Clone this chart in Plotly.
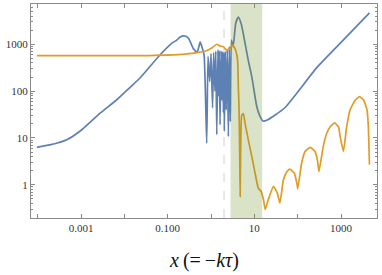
import numpy as np
import plotly.graph_objects as go

# ---- data (log10 values) ----
blue_log_x = [-4.02, -3.72, -3.33, -2.99, -2.56, -2.18, -1.87, -1.64, -1.18, -0.91, -0.79, -0.72,
              -0.65, -0.58, -0.52, -0.41, -0.32, -0.25, -0.20, -0.16, -0.10, -0.07, -0.03, 0.0,
              0.035, 0.06, 0.09, 0.11, 0.132, 0.16, 0.17, 0.19, 0.208, 0.23, 0.25, 0.265, 0.284,
              0.296, 0.307, 0.33, 0.35, 0.375, 0.40, 0.42, 0.445, 0.47, 0.51, 0.57, 0.63, 0.70,
              0.785, 0.86, 0.94, 1.055, 1.12, 1.20, 1.31, 1.48, 1.71, 2.0, 2.44, 3.0, 3.656]
blue_log_y = [0.80, 0.85, 0.96, 1.17, 1.53, 1.81, 2.08, 2.28, 2.77, 3.02, 3.09, 3.15,
              3.18, 3.17, 3.13, 2.91, 2.83, 3.05, 2.91, 2.77, 0.89, 2.74, 2.2, 2.80,
              1.64, 2.82, 2.0, 2.85, 1.07, 2.88, 1.9, 2.86, 1.28, 2.86, 1.8, 2.84, 1.54,
              2.82, 1.14, 2.85, 1.6, 2.88, 1.03, 2.95, 1.35, 3.09, 2.95, 3.45, 3.58, 3.42,
              3.02, 2.65, 2.31, 1.67, 1.48, 1.36, 1.39, 1.49, 1.65, 1.98, 2.50, 3.04, 3.67]

orange_log_x = [-4.02, -1.64, -0.60, -0.14, 0.016, 0.13, 0.21, 0.28, 0.36, 0.44, 0.49, 0.55,
                0.60, 0.617, 0.63, 0.647, 0.662, 0.672, 0.682, 0.709, 0.746, 0.785, 0.86, 0.94,
                1.016, 1.09, 1.155, 1.21, 1.25, 1.32, 1.44, 1.53, 1.59, 1.67, 1.75, 1.82, 1.92,
                1.98, 2.00, 2.09, 2.17, 2.29, 2.40, 2.46, 2.49, 2.59, 2.67, 2.75, 2.85, 2.94,
                2.98, 3.055, 3.13, 3.21, 3.33, 3.425, 3.52, 3.60, 3.63, 3.656]
orange_log_y = [2.757, 2.757, 2.79, 2.85, 2.92, 3.00, 2.96, 2.95, 2.88, 2.91, 2.985, 2.91,
                2.75, 2.59, 2.10, 1.60, 0.6, -0.25, 0.6, 1.49, 1.52, 1.31, 0.96, 0.605,
                0.25, -0.07, -0.14, -0.32, -0.53, -0.32, -0.036, -0.18, -0.39, 0.107, 0.28, 0.335, 0.25,
                0.036, -0.09, 0.46, 0.71, 0.80, 0.71, 0.50, 0.28, 0.82, 1.10, 1.24, 1.32, 1.24,
                1.03, 0.71, 1.24, 1.60, 1.81, 1.88, 1.81, 1.60, 1.24, 0.43]

band_x = [10 ** 0.45, 10 ** 1.18]
dashed_x = 10 ** 0.30

x_tick_vals = [1e-4, 1e-3, 1e-2, 1e-1, 1, 10, 100, 1000]
x_tick_text = ["", "0.001", "", "0.100", "", "10", "", "1000"]
y_tick_vals = [1, 10, 100, 1000]
y_tick_text = ["1", "10", "100", "1000"]

blue_x = 10 ** np.array(blue_log_x)
blue_y = 10 ** np.array(blue_log_y)
orange_x = 10 ** np.array(orange_log_x)
orange_y = 10 ** np.array(orange_log_y)

minor_y = [m * 10.0 ** k for k in range(-1, 4) for m in range(2, 10)]

fig = go.Figure()
fig.add_trace(go.Scatter(x=blue_x, y=blue_y, mode="lines",
                         line=dict(color="#5E81B5", width=1.7, shape="spline", smoothing=0.5),
                         showlegend=False))
fig.add_trace(go.Scatter(x=orange_x, y=orange_y, mode="lines",
                         line=dict(color="#E19C24", width=1.7, shape="spline", smoothing=0.4),
                         showlegend=False))

fig.add_shape(type="line", x0=dashed_x, x1=dashed_x, y0=0, y1=1, xref="x", yref="paper",
              line=dict(color="#d9d9d9", width=1.2, dash="dash"), layer="below")
fig.add_shape(type="rect", x0=band_x[0], x1=band_x[1], y0=0, y1=1, xref="x", yref="paper",
              fillcolor="rgba(107,142,35,0.25)", line=dict(width=0), layer="above")

tickfont = dict(family="Liberation Serif, Times New Roman, serif", size=11, color="#333")
fig.update_xaxes(type="log", range=[-4.155, 3.83], showgrid=False, zeroline=False,
                 showline=True, linecolor="#8a8a8a", linewidth=1, mirror="ticks",
                 ticks="inside", ticklen=4, tickcolor="#8a8a8a", automargin=False,
                 tickvals=x_tick_vals, ticktext=x_tick_text, tickfont=tickfont)
fig.update_yaxes(type="log", range=[-0.71, 3.86], showgrid=False, zeroline=False,
                 showline=True, linecolor="#8a8a8a", linewidth=1, mirror="ticks",
                 ticks="inside", ticklen=4, tickcolor="#8a8a8a", automargin=False,
                 tickvals=y_tick_vals, ticktext=y_tick_text, tickfont=tickfont,
                 minor=dict(ticks="inside", ticklen=2, tickcolor="#8a8a8a", tickvals=minor_y))

fig.add_annotation(text="<i>x</i>\u2009(=\u2009−<i>kτ</i>)", xref="paper", yref="paper",
                   x=0.5, y=-0.2, xanchor="center", yanchor="middle", showarrow=False,
                   font=dict(family="Liberation Serif, Times New Roman, serif", size=20, color="#111"))

fig.update_layout(width=382, height=275, margin=dict(l=31, r=5, t=4, b=57, autoexpand=False),
                  plot_bgcolor="white", paper_bgcolor="white")
fig.write_html("out.html", config={"displayModeBar": False},
               post_script="document.body.style.margin='0';document.body.style.overflow='hidden';")
